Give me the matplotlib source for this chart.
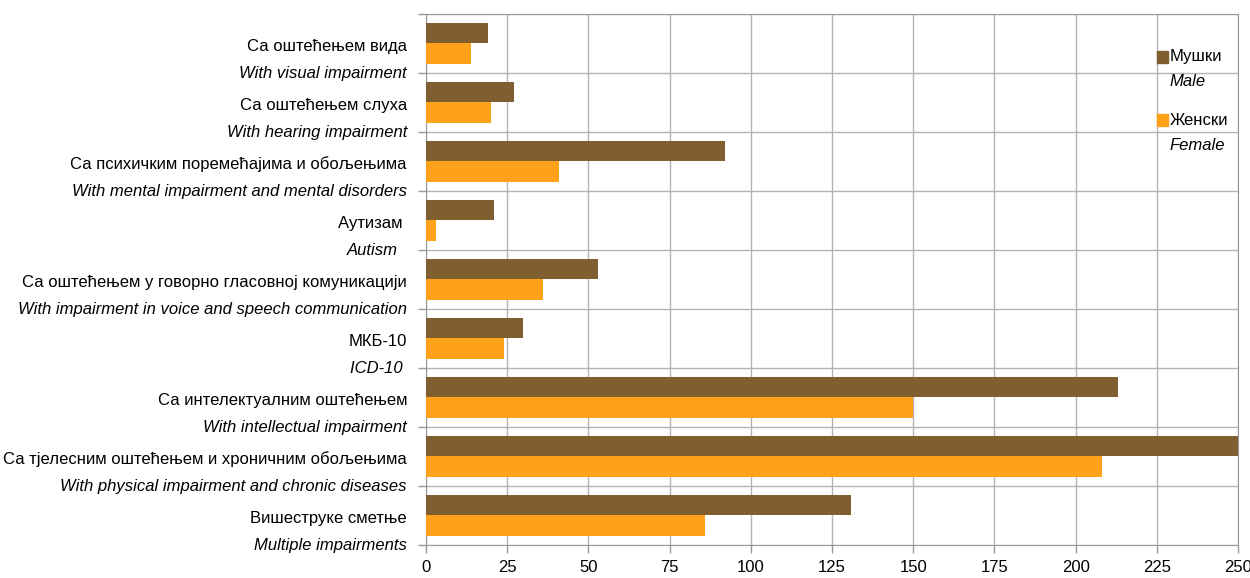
import numpy as np
import matplotlib.pyplot as plt
from matplotlib.patches import Rectangle

plt.rcParams['font.family'] = ['Liberation Sans', 'DejaVu Sans']

# Category labels (Serbian / English)
labels_sr = ['Са оштећењем вида', 'Са оштећењем слуха',
             'Са психичким поремећајима и обољењима', 'Аутизам ',
             'Са оштећењем у говорно гласовној комуникацији', 'МКБ-10',
             'Са интелектуалним оштећењем',
             'Са тјелесним оштећењем и хроничним обољењима',
             'Вишеструке сметње']
labels_en = ['With visual impairment', 'With hearing impairment',
             'With mental impairment and mental disorders', 'Autism  ',
             'With impairment in voice and speech communication', 'ICD-10 ',
             'With intellectual impairment',
             'With physical impairment and chronic diseases',
             'Multiple impairments']

male = [19, 27, 92, 21, 53, 30, 213, 251, 131]
female = [14, 20, 41, 3, 36, 24, 150, 208, 86]

c_male = '#7f5f2f'
c_female = '#ffa21a'
grid_c = '#b3b3b3'
fs = 12

fig = plt.figure(figsize=(12.5, 5.78), dpi=100)
ax = fig.add_axes([0.3408, 0.0571, 0.6496, 0.9187])

y = np.arange(len(labels_sr))
h = 0.34
ax.barh(y - h / 2, male, height=h, color=c_male, zorder=3)
ax.barh(y + h / 2, female, height=h, color=c_female, zorder=3)

ax.set_xlim(0, 250)
ax.set_ylim(len(y) - 0.5, -0.5)
ax.set_xticks(np.arange(0, 251, 25))
ax.set_yticks(np.arange(-0.5, len(y), 1))
ax.set_yticklabels([])
ax.grid(True, color=grid_c, linewidth=1, zorder=0)
for s in ax.spines.values():
    s.set_color('#999999')
ax.tick_params(axis='both', color='#999999', length=6, width=1)
ax.tick_params(axis='x', labelsize=fs, pad=5)

# two-line category labels
for i in range(len(y)):
    ax.annotate(labels_sr[i], xy=(0, i), xycoords=('axes fraction', 'data'),
                xytext=(-19, -3), textcoords='offset pixels',
                ha='right', va='center', fontsize=fs)
    ax.annotate(labels_en[i], xy=(0, i), xycoords=('axes fraction', 'data'),
                xytext=(-19, -30), textcoords='offset pixels',
                ha='right', va='center', fontsize=fs, style='italic')

# legend
for col, sr, en, ty in [(c_male, 'Мушки', 'Male', 0.919),
                        (c_female, 'Женски', 'Female', 0.800)]:
    ax.add_patch(Rectangle((0.9, ty - 0.011), 0.0135, 0.022, color=col,
                           transform=ax.transAxes, clip_on=False, zorder=5))
    ax.text(0.9155, ty, sr, transform=ax.transAxes, va='center', fontsize=fs)
    ax.text(0.9155, ty - 0.047, en, transform=ax.transAxes, va='center',
            fontsize=fs, style='italic')

plt.savefig('out.png', dpi=100)
